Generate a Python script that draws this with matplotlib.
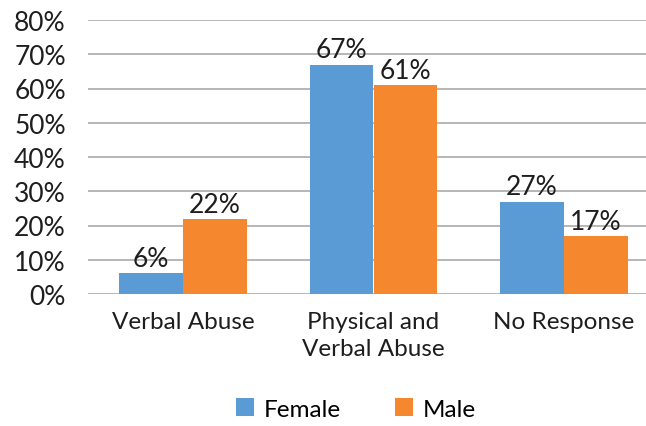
import matplotlib
matplotlib.use("Agg")
import matplotlib.pyplot as plt
import numpy as np

categories = ["Verbal Abuse", "Physical and\nVerbal Abuse", "No Response"]
female = [6, 67, 27]
male = [22, 61, 17]
yticks = [0, 10, 20, 30, 40, 50, 60, 70, 80]

plt.rcParams["font.family"] = ["Lato", "DejaVu Sans"]

fig = plt.figure(figsize=(6.46, 4.27), dpi=100)
W, H = 646, 427
ax = fig.add_axes([88 / W, 1 - 295 / H, (659 - 88) / W, (295 - 21) / H])

x = np.arange(len(categories))
bw = 0.336
blue = "#5B9BD5"
orange = "#F5872F"
txt = "#1E1E1E"
bf = ax.bar(x - bw / 2, female, bw, color=blue, label="Female", zorder=3)
bm = ax.bar(x + bw / 2, male, bw, color=orange, label="Male", zorder=3)

for rects, vals in ((bf, female), (bm, male)):
    for r, v in zip(rects, vals):
        ax.text(r.get_x() + r.get_width() / 2, v + 0.6, f"{v}%",
                ha="center", va="bottom", fontsize=19, color=txt)

ax.set_xlim(-0.5, 2.5)
ax.set_ylim(0, 80)
ax.set_yticks(yticks)
ax.set_yticklabels([f"{t}%" for t in yticks], fontsize=19, color=txt)
ax.set_xticks(x)
ax.set_xticklabels(categories, fontsize=17.5, color=txt, linespacing=1.4)
ax.tick_params(axis="both", length=0)
ax.tick_params(axis="y", pad=16)
ax.tick_params(axis="x", pad=12)
ax.yaxis.grid(True, color="#AAAAAA", linewidth=1.2)
ax.set_axisbelow(True)
for s in ax.spines.values():
    s.set_visible(False)

fig.legend(handles=[bf, bm], labels=["Female", "Male"], loc="center",
           bbox_to_anchor=(356 / W, 1 - 410 / H), ncol=2, frameon=False,
           fontsize=17.5, handlelength=0.75, handleheight=0.75,
           handletextpad=0.4, columnspacing=2.2)

fig.savefig("out.png", dpi=100)
